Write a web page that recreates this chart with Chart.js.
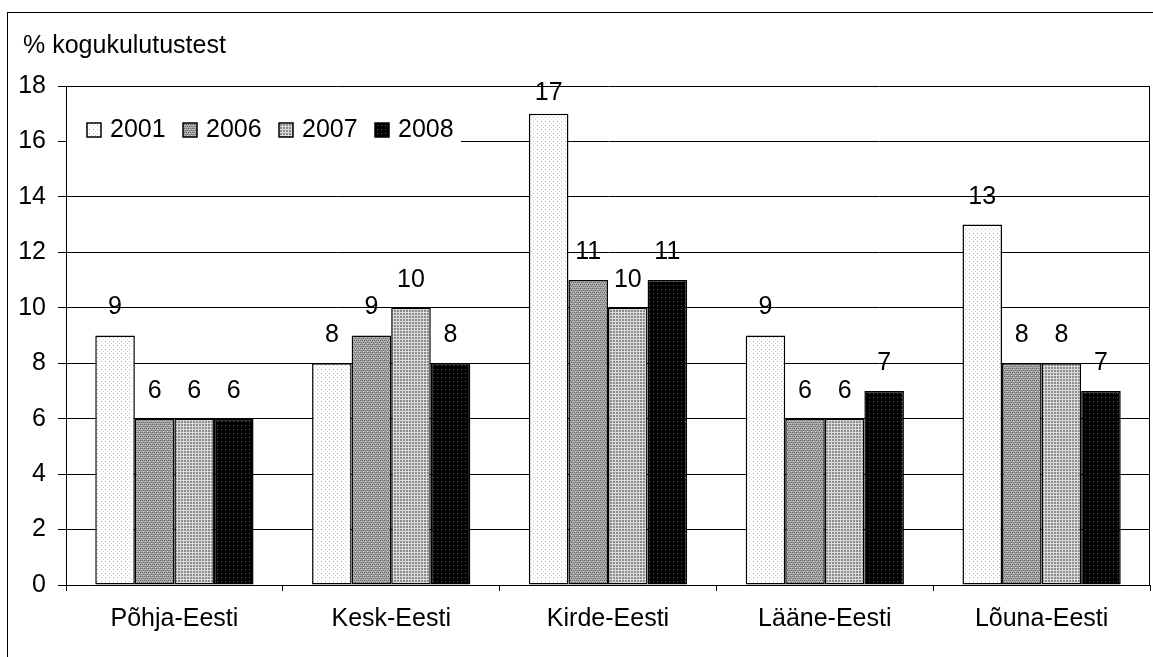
<!DOCTYPE html>
<html>
<head>
<meta charset="utf-8">
<script src="https://cdn.jsdelivr.net/npm/chart.js@4"></script>
<style>
    body { margin: 0; background: #fff; }
    #wrap { width: 1153px; height: 657px; }
</style>
</head>
<body>
<div id="wrap"><canvas id="region_chart" width="1153" height="657"></canvas></div>
<script>
// data
const regions = ["Põhja-Eesti", "Kesk-Eesti", "Kirde-Eesti", "Lääne-Eesti", "Lõuna-Eesti"]
const years = ["2001", "2006", "2007", "2008"]
const values2001 = [9, 8, 17, 9, 13]
const values2006 = [6, 9, 11, 6, 8]
const values2007 = [6, 10, 10, 6, 8]
const values2008 = [6, 8, 11, 7, 7]
const yTicks = [0, 2, 4, 6, 8, 10, 12, 14, 16, 18]
const unitLabel = "% kogukulutustest"

const FONT = "'Liberation Sans', Arial, sans-serif"
const SIZE = 25

// small tiles imitating the old excel fill patterns
function tile(size, draw) {
    const c = document.createElement("canvas")
    c.width = size
    c.height = size
    const g = c.getContext("2d")
    draw(g)
    return document.createElement("canvas").getContext("2d").createPattern(c, "repeat")
}

function px(g, x, y, color) {
    g.fillStyle = color
    g.fillRect(x, y, 1, 1)
}

const fills = [
    tile(4, g => {
        g.fillStyle = "#ffffff"
        g.fillRect(0, 0, 4, 4)
        px(g, 1, 1, "#b4b4b4")
        px(g, 3, 3, "#e0e0e0")
    }),
    tile(4, g => {
        g.fillStyle = "#a4a4a4"
        g.fillRect(0, 0, 4, 4)
        px(g, 0, 0, "#6a6a6a")
        px(g, 2, 0, "#6a6a6a")
        px(g, 1, 2, "#6a6a6a")
        px(g, 3, 2, "#6a6a6a")
        px(g, 1, 1, "#d0d0d0")
        px(g, 3, 3, "#d0d0d0")
    }),
    tile(3, g => {
        g.fillStyle = "#8c8c8c"
        g.fillRect(0, 0, 3, 3)
        g.fillStyle = "#dadada"
        g.fillRect(0, 0, 3, 1)
        g.fillRect(0, 0, 1, 3)
    }),
    tile(4, g => {
        g.fillStyle = "#000000"
        g.fillRect(0, 0, 4, 4)
        px(g, 1, 1, "#5a5a5a")
    }),
]

const series = [values2001, values2006, values2007, values2008]

// frame, unit label, legend box, value labels
const decorations = {
    id: "decorations",
    beforeDraw(chart) {
        const ctx = chart.ctx
        ctx.save()
        ctx.fillStyle = "#fff"
        ctx.fillRect(0, 0, chart.width, chart.height)
        ctx.strokeStyle = "#000"
        ctx.lineWidth = 1
        ctx.strokeRect(7.5, 12.5, 2000, 2000)
        ctx.fillStyle = "#000"
        ctx.font = SIZE + "px " + FONT
        ctx.textBaseline = "alphabetic"
        ctx.textAlign = "left"
        ctx.fillText(unitLabel, 23, 53)
        ctx.restore()
    },
    beforeDatasetsDraw(chart) {
        const ctx = chart.ctx
        const area = chart.chartArea
        ctx.save()
        // plot area right border
        ctx.strokeStyle = "#000"
        ctx.lineWidth = 1
        ctx.beginPath()
        ctx.moveTo(Math.round(area.right) - 0.5, area.top)
        ctx.lineTo(Math.round(area.right) - 0.5, area.bottom)
        ctx.stroke()
        // legend sits on a white box over the grid
        ctx.fillStyle = "#fff"
        ctx.fillRect(area.left + 1, 112, 394, 38)
        ctx.font = SIZE + "px " + FONT
        ctx.textBaseline = "middle"
        ctx.textAlign = "left"
        chart.data.datasets.forEach((ds, i) => {
            const x = 87 + i * 96
            ctx.fillStyle = fills[i]
            ctx.fillRect(x, 123, 14, 14)
            ctx.strokeStyle = "#000"
            ctx.lineWidth = 1.5
            ctx.strokeRect(x, 123, 14, 14)
            ctx.fillStyle = "#000"
            ctx.fillText(ds.label, x + 23, 130)
        })
        ctx.restore()
    },
    afterDatasetsDraw(chart) {
        const ctx = chart.ctx
        const area = chart.chartArea
        ctx.save()
        ctx.font = SIZE + "px " + FONT
        ctx.fillStyle = "#000"
        ctx.textAlign = "center"
        ctx.textBaseline = "middle"
        chart.data.datasets.forEach((ds, i) => {
            chart.getDatasetMeta(i).data.forEach((bar, j) => {
                const y = Math.max(bar.y - 28, area.top + 7)
                ctx.fillText(String(ds.data[j]), bar.x, y)
            })
        })
        ctx.restore()
    },
}

function main() {
    new Chart(document.getElementById("region_chart"), {
        type: "bar",
        data: {
            labels: regions,
            datasets: series.map((data, i) => ({
                label: years[i],
                data: data,
                backgroundColor: fills[i],
                borderColor: "#000",
                borderWidth: 1.5,
                borderSkipped: false,
                categoryPercentage: 0.73,
                barPercentage: 1,
            })),
        },
        options: {
            responsive: false,
            animation: false,
            devicePixelRatio: 1,
            layout: {
                padding: { left: 8, top: 86, right: 3, bottom: 0 },
            },
            scales: {
                x: {
                    afterFit: scale => { scale.height = 72 },
                    grid: {
                        drawOnChartArea: false,
                        drawTicks: true,
                        tickLength: 6,
                        color: "#000",
                        offset: true,
                    },
                    border: { display: true, color: "#000", width: 1 },
                    ticks: {
                        color: "#000",
                        font: { size: SIZE, family: FONT },
                        padding: 13,
                        maxRotation: 0,
                    },
                },
                y: {
                    min: 0,
                    max: 18,
                    afterFit: scale => { scale.width = 58 },
                    afterBuildTicks: scale => {
                        scale.ticks = yTicks.map(v => ({ value: v }))
                    },
                    grid: {
                        color: "#000",
                        lineWidth: 1,
                        tickLength: 8,
                    },
                    border: { display: true, color: "#000", width: 1 },
                    ticks: {
                        color: "#000",
                        font: { size: SIZE, family: FONT },
                        padding: 12,
                    },
                },
            },
            plugins: {
                legend: { display: false },
                tooltip: { enabled: false },
            },
        },
        plugins: [decorations],
    })
}

document.addEventListener("DOMContentLoaded", main())
</script>
</body>
</html>
